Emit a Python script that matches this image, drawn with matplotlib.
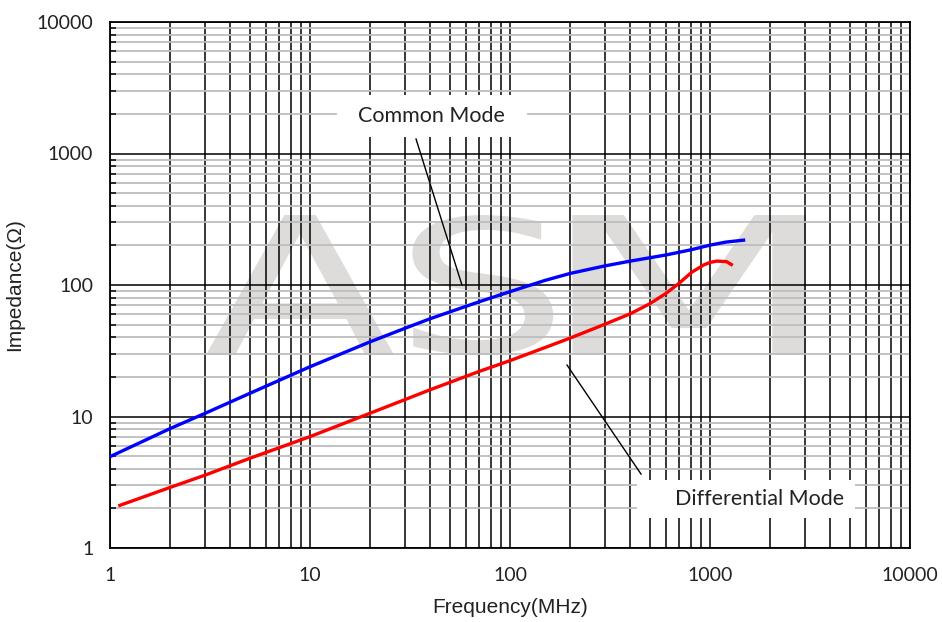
import matplotlib
matplotlib.use("Agg")
import matplotlib.pyplot as plt
from matplotlib.ticker import FixedLocator, FuncFormatter, LogLocator, NullFormatter
from matplotlib.textpath import TextPath
from matplotlib.patches import PathPatch, Rectangle
from matplotlib.transforms import Affine2D
from matplotlib.font_manager import FontProperties

# common mode impedance (blue)
cm_freq = [1, 2, 3, 5, 10, 20, 30, 40, 70, 100, 150, 200, 300, 400, 600, 800,
           1000, 1200, 1500]
cm_imp = [4.95, 8.1, 10.6, 15.0, 23.9, 37.0, 47.0, 55.5, 74.5, 89.0, 108.5, 122.5,
          140.0, 152.0, 169.0, 185.0, 201.0, 212.0, 220.0]

# differential mode impedance (red)
dm_freq = [1.1, 2, 3, 5, 10, 20, 40, 70, 100, 158, 200, 300, 400, 500,
           600, 700, 810, 930, 1000, 1080, 1210, 1300]
dm_imp = [2.09, 2.89, 3.59, 4.81, 7.03, 10.6, 16.0, 22.0, 26.6, 34.5,
          39.5, 50.5, 60.5, 72.0, 86.0, 103.0, 125.0, 142.0, 148.5, 152.0, 150.5, 141.0]

x_ticks = [1, 10, 100, 1000, 10000]
y_ticks = [1, 10, 100, 1000, 10000]

plt.rcParams['font.family'] = ['Lato', 'DejaVu Sans']

fig = plt.figure(figsize=(9.42, 6.22), dpi=100)
fig.subplots_adjust(left=110/942, right=910/942, bottom=1-548/622, top=1-22/622)
ax = fig.add_subplot(111)
ax.set_xscale('log')
ax.set_yscale('log')
ax.set_xlim(1, 10000)
ax.set_ylim(1, 10000)
ax.set_axisbelow(True)

# watermark "ASM", each letter stretched into its own box (axes fraction)
def watermark(ax, letter, box):
    tp = TextPath((0, 0), letter, size=100, prop=FontProperties(family='DejaVu Sans'))
    ext = tp.get_extents()
    x0, x1, y0, y1 = box
    tr = (Affine2D().translate(-ext.x0, -ext.y0)
          .scale((x1 - x0) / ext.width, (y1 - y0) / ext.height)
          .translate(x0, y0))
    ax.add_patch(PathPatch(tr.transform_path(tp), transform=ax.transAxes,
                           fc='#dedcdb', ec='none', zorder=0.2))

watermark(ax, 'A', (0.120, 0.355, 0.367, 0.633))
watermark(ax, 'S', (0.378, 0.554, 0.367, 0.633))
watermark(ax, 'M', (0.578, 0.870, 0.367, 0.633))

ax.xaxis.set_major_locator(FixedLocator(x_ticks))
ax.yaxis.set_major_locator(FixedLocator(y_ticks))
ax.xaxis.set_minor_locator(LogLocator(base=10, subs=range(2, 10)))
ax.yaxis.set_minor_locator(LogLocator(base=10, subs=range(2, 10)))
ax.xaxis.set_minor_formatter(NullFormatter())
ax.yaxis.set_minor_formatter(NullFormatter())
fmt = FuncFormatter(lambda v, p: "{:d}".format(int(round(v))))
ax.xaxis.set_major_formatter(fmt)
ax.yaxis.set_major_formatter(fmt)

ax.grid(which='major', axis='both', color='black', linewidth=1.1)
ax.grid(which='minor', axis='x', color='black', linewidth=1.1)
ax.grid(which='minor', axis='y', color='#bdbdbd', linewidth=1.3)

ax.tick_params(axis='x', which='both', length=0, pad=14, labelsize=14, colors='#222222')
ax.tick_params(axis='y', which='major', length=0, pad=12, labelsize=14, colors='#222222')
ax.tick_params(axis='y', which='minor', direction='in', length=4.5, width=1.1, color='black')
for s in ax.spines.values():
    s.set_linewidth(1.3)
    s.set_color('black')

ax.plot(cm_freq, cm_imp, color='#0000ff', linewidth=2.4, zorder=3, solid_capstyle='butt')
ax.plot(dm_freq, dm_imp, color='#ff0000', linewidth=2.4, zorder=3, solid_capstyle='butt')

# leader lines and labels
ax.plot([33.9, 57.5], [1289, 100], color='black', linewidth=1.0, zorder=4)
ax.plot([192.8, 452], [24.6, 3.65], color='black', linewidth=1.0, zorder=4)
ax.add_patch(Rectangle((0.284, 0.781), 0.237, 0.080, transform=ax.transAxes,
                       fc='white', ec='none', zorder=5))
ax.add_patch(Rectangle((0.659, 0.057), 0.272, 0.072, transform=ax.transAxes,
                       fc='white', ec='none', zorder=5))
ax.text(40.7, 1928, "Common Mode", fontsize=15.5, ha='center', va='center', zorder=6,
        color='#222222')
ax.text(1778, 2.36, "Differential Mode", fontsize=15.5, ha='center', va='center', zorder=6,
        color='#222222')

ax.set_xlabel("Frequency(MHz)", fontsize=15, family=['Liberation Sans', 'DejaVu Sans'],
              labelpad=10, color='#222222')
ax.set_ylabel("Impedance(Ω)", fontsize=15, family=['Liberation Sans', 'DejaVu Sans'],
              labelpad=9, color='#222222')

fig.savefig("out.png", dpi=100)
